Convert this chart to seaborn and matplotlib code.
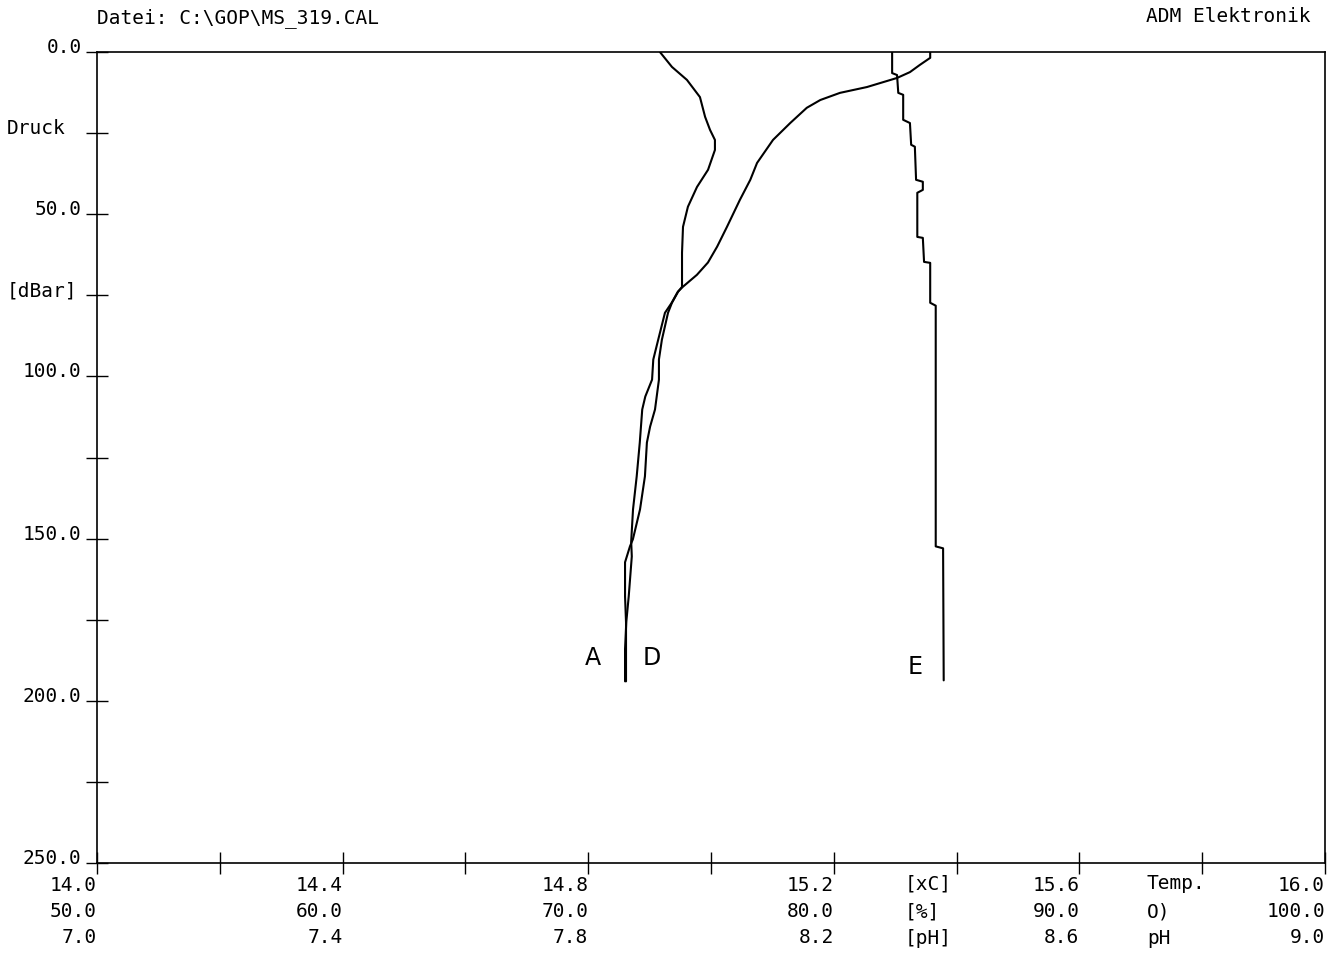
import numpy as np
import pandas as pd
import matplotlib
matplotlib.use("Agg")
import matplotlib.pyplot as plt
import matplotlib.transforms as mtransforms
import seaborn as sns

# --- CTD profile, file MS_319.CAL -------------------------------------------
# A: temperature [°C] against pressure [dBar]
temp_p = [0, 1.8, 4.0, 6.2, 8.0, 10.8, 12.6, 14.8, 17.2, 21.9, 27.1, 34.2,
          39.4, 45.6, 53.9, 60.0, 64.9, 68.7, 72.4, 73.9, 77.3, 80.4, 88.7,
          94.8, 101.0, 106.2, 110.2, 120.4, 130.8, 141.0, 150.9, 155.5,
          167.8, 175.8, 184.1, 194.0]
temp_v = [15.357, 15.357, 15.340, 15.324, 15.303, 15.254, 15.210, 15.178,
          15.156, 15.129, 15.101, 15.075, 15.064, 15.047, 15.026, 15.010,
          14.995, 14.977, 14.954, 14.946, 14.936, 14.925, 14.914, 14.906,
          14.904, 14.893, 14.888, 14.884, 14.879, 14.873, 14.870, 14.871,
          14.866, 14.862, 14.860, 14.860]

# D: oxygen saturation [%]
oxy_p = [0, 4.6, 8.6, 13.9, 20.0, 24.0, 27.1, 30.2, 36.3, 41.6, 47.7, 53.9,
         61.9, 72.4, 73.9, 77.3, 80.4, 88.7, 94.8, 101.0, 110.2, 115.5, 120.4,
         130.8, 141.0, 150.2, 152.4, 157.3, 167.8, 175.8, 184.1, 194.0]
oxy_v = [72.92, 73.41, 74.02, 74.55, 74.76, 74.96, 75.16, 75.16, 74.88,
         74.43, 74.06, 73.86, 73.82, 73.82, 73.66, 73.41, 73.25, 73.00,
         72.88, 72.88, 72.72, 72.52, 72.39, 72.31, 72.11, 71.82, 71.70,
         71.50, 71.50, 71.54, 71.54, 71.54]

# E: pH (stepped readings)
ph_p = [0, 6.5, 7.1, 12.6, 13.2, 20.9, 21.9, 28.6, 29.2, 39.4, 40.0, 42.5,
        43.4, 57.0, 57.3, 64.7, 65.0, 77.3, 78.2, 152.4, 153.0, 193.7]
ph_v = [8.295, 8.295, 8.303, 8.305, 8.313, 8.313, 8.324, 8.326, 8.332,
        8.334, 8.345, 8.345, 8.336, 8.336, 8.345, 8.347, 8.357, 8.357,
        8.366, 8.366, 8.378, 8.379]

# axis scales (temperature is the primary x scale)
temp_ticks = [14.0, 14.4, 14.8, 15.2, 15.6, 16.0]
oxy_ticks = [50.0, 60.0, 70.0, 80.0, 90.0, 100.0]
ph_ticks = [7.0, 7.4, 7.8, 8.2, 8.6, 9.0]
p_ticks = [0.0, 50.0, 100.0, 150.0, 200.0, 250.0]

curve_labels = ["A", "D", "E"]


def oxy_to_t(o):
    return 14.0 + (np.asarray(o) - 50.0) * 2.0 / 50.0


def ph_to_t(v):
    return 14.0 + (np.asarray(v) - 7.0)


sns.set_theme(style="white")
plt.rcParams["font.family"] = ["DejaVu Sans"]

fig = plt.figure(figsize=(13.41, 9.54), dpi=100)
ax = fig.add_axes([97 / 1341, 1 - 864 / 954, 1228 / 1341, 811 / 954])

profiles = pd.concat([
    pd.DataFrame({"x": temp_v, "p": temp_p, "s": "A"}),
    pd.DataFrame({"x": oxy_to_t(oxy_v), "p": oxy_p, "s": "D"}),
    pd.DataFrame({"x": ph_to_t(ph_v), "p": ph_p, "s": "E"}),
], ignore_index=True)

for name, grp in profiles.groupby("s"):
    sns.lineplot(data=grp, x="x", y="p", sort=False, estimator=None,
                 color="black", linewidth=1.5, ax=ax, legend=False)

ax.set_xlim(14.0, 16.0)
ax.set_ylim(250.0, 0.0)
ax.set_xlabel("")
ax.set_ylabel("")

for sp in ax.spines.values():
    sp.set_color("black")
    sp.set_linewidth(1.2)
    sp.set_visible(True)

mono = "DejaVu Sans Mono"
fs = 14

# x axis: three stacked scales
xt = np.round(np.arange(14.0, 16.001, 0.2), 1)
xlabels = []
for t in xt:
    if t in temp_ticks:
        i = temp_ticks.index(t)
        xlabels.append(f"{temp_ticks[i]:.1f}\n{oxy_ticks[i]:.1f}\n{ph_ticks[i]:.1f}")
    else:
        xlabels.append("")
ax.set_xticks(xt)
ax.set_xticklabels(xlabels, ha="right", multialignment="right",
                   family=mono, fontsize=fs, linespacing=1.45)
shift = mtransforms.ScaledTranslation(3 / 100, 0, fig.dpi_scale_trans)
for lab in ax.get_xticklabels():
    lab.set_transform(lab.get_transform() + shift)

# y axis: pressure
yt = np.arange(0, 251, 25)
ylabels = [f"{v:.1f}" if v in p_ticks else "" for v in yt]
ax.set_yticks(yt)
ax.set_yticklabels(ylabels, family=mono, fontsize=fs)
for lab in ax.get_yticklabels():
    lab.set_verticalalignment("baseline")

ax.tick_params(axis="both", which="major", bottom=True, left=True,
               top=False, right=False, direction="inout", length=16,
               width=1.0, color="black", labelcolor="black")
ax.tick_params(axis="x", pad=1)
ax.tick_params(axis="y", pad=3)

# unit captions
xt_trans = mtransforms.blended_transform_factory(ax.transData, ax.transAxes)
row_y = [-0.0246, -0.0591, -0.0924]
for xpos, words in [(15.316, ["[xC]", "[%]", "[pH]"]),
                    (15.710, ["Temp.", "O)", "pH"])]:
    for ry, w in zip(row_y, words):
        ax.text(xpos, ry, w, transform=xt_trans, ha="left", va="center",
                family=mono, fontsize=fs, color="black")

yt_trans = mtransforms.blended_transform_factory(fig.transFigure, ax.transData)
ax.text(0.005, 25, "Druck", transform=yt_trans, ha="left", va="baseline",
        family=mono, fontsize=fs, color="black")
ax.text(0.005, 75, "[dBar]", transform=yt_trans, ha="left", va="baseline",
        family=mono, fontsize=fs, color="black")

# curve identifiers
ax.text(14.808, 186.6, curve_labels[0], ha="center", va="center",
        fontsize=17, color="black")
ax.text(14.904, 186.6, curve_labels[1], ha="center", va="center",
        fontsize=17, color="black")
ax.text(15.332, 189.3, curve_labels[2], ha="center", va="center",
        fontsize=17, color="black")

# header
fig.text(97 / 1341, 1 - 18 / 954, "Datei: C:\\GOP\\MS_319.CAL", ha="left",
         va="center", family=mono, fontsize=fs, color="black")
fig.text(1310 / 1341, 1 - 17 / 954, "ADM Elektronik", ha="right",
         va="center", family=mono, fontsize=fs, color="black")

fig.savefig("out.png", dpi=100, facecolor="white")
